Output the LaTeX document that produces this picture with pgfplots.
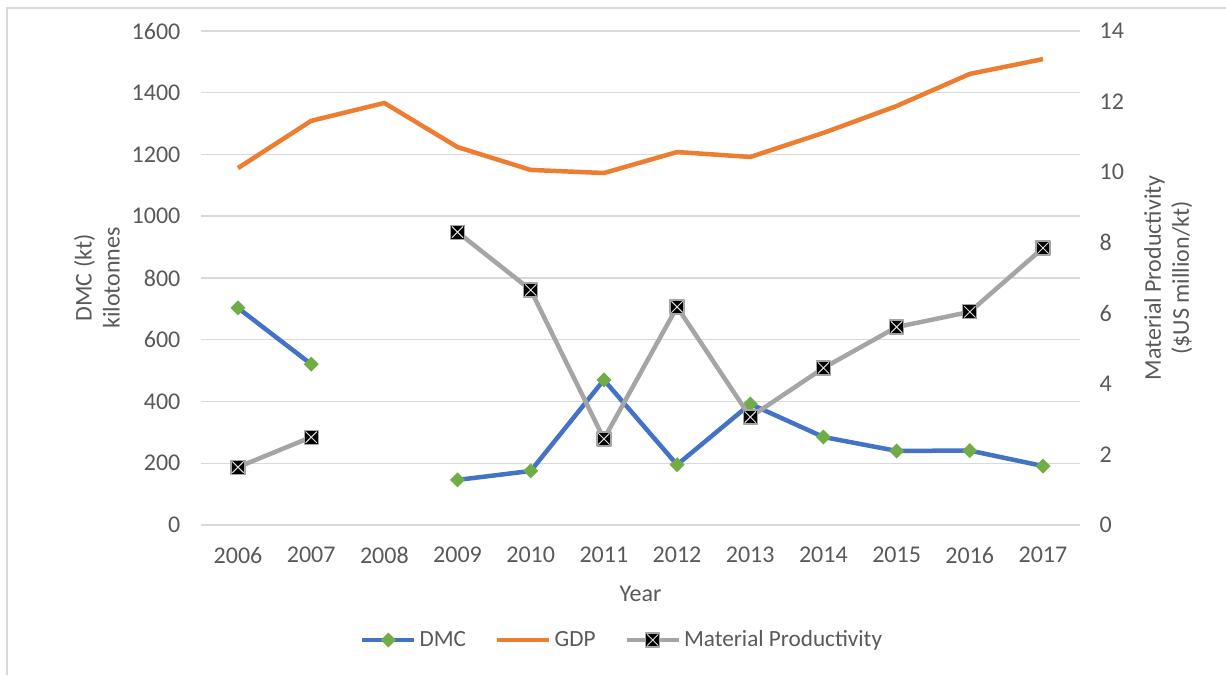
\documentclass[border=0pt]{standalone}
\usepackage{fontspec}
\setmainfont{Carlito}
\usepackage{pgfplots}
\pgfplotsset{compat=1.18}
\definecolor{dmcblue}{HTML}{4472C4}
\definecolor{gdporange}{HTML}{ED7D31}
\definecolor{mpgray}{HTML}{A5A5A5}
\definecolor{dmcgreen}{HTML}{70AD47}
\definecolor{gridc}{HTML}{D9D9D9}
\definecolor{txt}{HTML}{595959}

% Excel-style diamond (equal width and height)
\pgfdeclareplotmark{xdia}{%
  \pgfpathmoveto{\pgfqpoint{0pt}{\pgfplotmarksize}}%
  \pgfpathlineto{\pgfqpoint{\pgfplotmarksize}{0pt}}%
  \pgfpathlineto{\pgfqpoint{0pt}{-\pgfplotmarksize}}%
  \pgfpathlineto{\pgfqpoint{-\pgfplotmarksize}{0pt}}%
  \pgfpathclose
  \pgfusepathqfill
}
% black box with a light X
\pgfdeclareplotmark{boxx}{%
  \pgfsetfillcolor{black}\pgfsetstrokecolor{mpgray}\pgfsetlinewidth{0.6pt}%
  \pgfpathrectangle{\pgfpoint{-\pgfplotmarksize}{-\pgfplotmarksize}}{\pgfpoint{2\pgfplotmarksize}{2\pgfplotmarksize}}%
  \pgfusepathqfillstroke
  \pgfsetstrokecolor{white!75!gray}\pgfsetlinewidth{0.5pt}%
  \pgfpathmoveto{\pgfpoint{-0.8\pgfplotmarksize}{-0.8\pgfplotmarksize}}%
  \pgfpathlineto{\pgfpoint{0.8\pgfplotmarksize}{0.8\pgfplotmarksize}}%
  \pgfpathmoveto{\pgfpoint{-0.8\pgfplotmarksize}{0.8\pgfplotmarksize}}%
  \pgfpathlineto{\pgfpoint{0.8\pgfplotmarksize}{-0.8\pgfplotmarksize}}%
  \pgfusepathqstroke
}

\pgfplotsset{
  common/.style={
    scale only axis, width=439.1pt, height=247pt,
    at={(100.7pt,75pt)}, anchor=south west,
    xmin=2005.5, xmax=2017.5,
    unbounded coords=jump,
    tick style={draw=none},
    ticklabel style={font=\fontsize{12}{14}\selectfont, text=txt},
    label style={font=\fontsize{12}{14}\selectfont, text=txt},
  },
}

\begin{document}
\begin{tikzpicture}
\path[use as bounding box] (0,0) rectangle (613pt,337.5pt);
\draw[gridc, line width=0.75pt] (3.5pt,0) -- (3.5pt,333.5pt) -- (613pt,333.5pt);

\begin{axis}[common,
  ymin=0, ymax=1600, ytick={0,200,...,1600},
  xtick={2006,...,2017},
  x tick label style={/pgf/number format/1000 sep={}, anchor=center, yshift=-15pt},
  y tick label style={xshift=-7pt},
  /pgf/number format/assume math mode=true,
  /pgf/number format/1000 sep={},
  axis y line*=left, axis x line*=bottom,
  y axis line style={draw=none},
  x axis line style={gridc, line width=0.75pt},
  ymajorgrids, grid style={gridc, line width=0.75pt},
  xlabel={Year},
  xlabel style={at={(axis description cs:0.5,-0.14)}, anchor=center},
  ylabel={DMC (kt)\\kilotonnes},
  ylabel style={align=center, at={(axis description cs:-0.119,0.5)}, anchor=center},
]
\addplot[dmcblue, line width=2.25pt, line join=round, mark=xdia, mark size=3.75pt,
  mark options={fill=dmcgreen, solid}] coordinates {
  (2006,703) (2007,521) (2008,nan) (2009,146) (2010,175) (2011,470)
  (2012,195) (2013,392) (2014,285) (2015,240) (2016,241) (2017,191)};
\addplot[gdporange, line width=2.25pt, line join=round, no markers] coordinates {
  (2006,1156) (2007,1309) (2008,1367) (2009,1224) (2010,1150) (2011,1140)
  (2012,1208) (2013,1192) (2014,1270) (2015,1357) (2016,1461) (2017,1509)};
\end{axis}

\begin{axis}[common,
  ymin=0, ymax=14, ytick={0,2,...,14},
  axis y line*=right, axis x line=none,
  y axis line style={draw=none},
  y tick label style={xshift=6.5pt},
  /pgf/number format/assume math mode=true,
  ylabel={Material Productivity\\(\$US million/kt)},
  ylabel style={align=center, at={(axis description cs:1.101,0.5)}, anchor=center},
  legend columns=3,
  legend style={draw=none, fill=none, at={(0.4796,-0.2328)}, anchor=center,
    font=\fontsize{11.6}{13}\selectfont, text=txt,
    nodes={inner xsep=1.5pt},
    /tikz/every even column/.append style={column sep=13pt},
    /tikz/every odd column/.append style={column sep=0pt}},
  legend image code/.code={%
    \draw[mark repeat=2, mark phase=2] plot coordinates {(0pt,0pt) (13pt,0pt) (26pt,0pt)};},
]
\addlegendimage{dmcblue, line width=2.25pt, mark=xdia, mark size=3.75pt, mark options={fill=dmcgreen, solid}}
\addlegendentry{DMC}
\addlegendimage{gdporange, line width=2.25pt, no markers}
\addlegendentry{GDP}
\addplot[mpgray, line width=2.25pt, line join=round, mark=boxx, mark size=3.5pt,
  mark options={solid}] coordinates {
  (2006,1.64) (2007,2.49) (2008,nan) (2009,8.30) (2010,6.66) (2011,2.44)
  (2012,6.18) (2013,3.06) (2014,4.45) (2015,5.61) (2016,6.04) (2017,7.85)};
\addlegendentry{Material Productivity}
\end{axis}
\end{tikzpicture}
\end{document}
